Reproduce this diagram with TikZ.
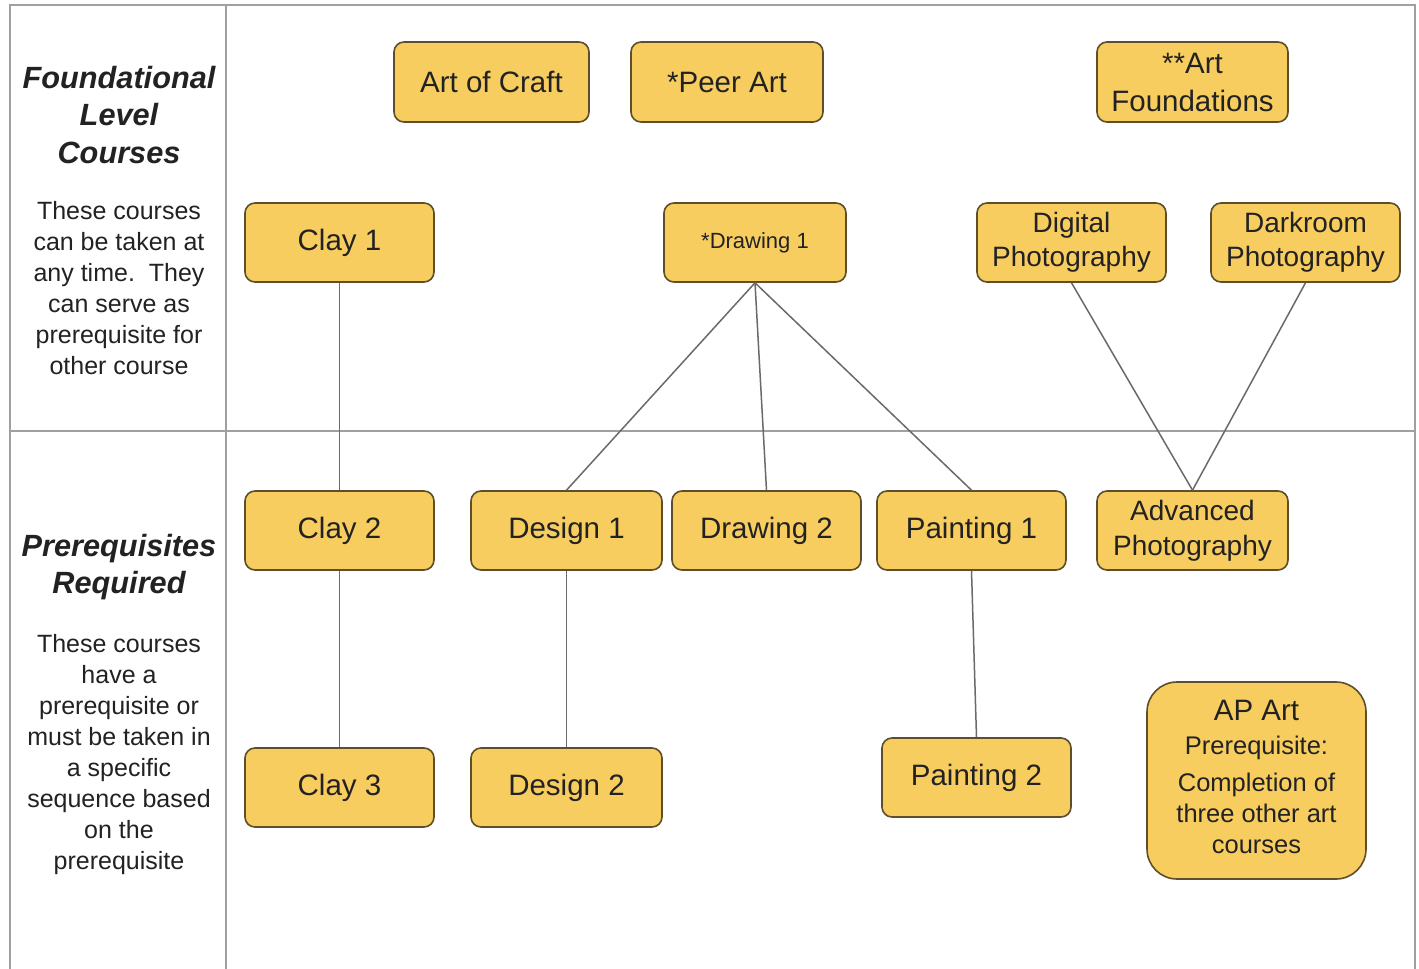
\documentclass[tikz,border=0pt]{standalone}
\usepackage{fontspec}
\setmainfont{Liberation Sans}
\definecolor{boxfill}{HTML}{F8CD60}
\definecolor{boxborder}{HTML}{5E4E2A}
\definecolor{linec}{HTML}{6A6A6A}
\definecolor{framec}{HTML}{A0A0A0}
\definecolor{textc}{HTML}{222222}
\newcommand{\mytwolines}[2]{\raisebox{-3.5pt}{\begin{tabular}{@{}c@{}}#1\\#2\end{tabular}}}
\begin{document}
\begin{tikzpicture}[x=1pt,y=-1pt,
  course/.style={draw=boxborder, fill=boxfill, rounded corners=10pt, line width=1.6pt,
    inner sep=0pt, align=center, text=textc, minimum width=189pt, minimum height=79pt,
    font=\fontsize{29.5}{35}\selectfont},
  link/.style={draw=linec, line width=1.5pt},
  frameline/.style={draw=framec, line width=1.8pt},
  sidetitle/.style={align=center, text=textc, inner sep=0pt, font=\fontsize{30.7}{37.5}\selectfont\bfseries\itshape},
  sidetext/.style={align=center, text=textc, inner sep=0pt, font=\fontsize{25}{31}\selectfont}
]
\fill[white] (0,0) rectangle (1419,969);
\useasboundingbox (0,0) rectangle (1419,969);

% frame
\coordinate (tl) at (10,5);
\coordinate (tr) at (1415,5);
\coordinate (bl) at (10,969);
\coordinate (br) at (1415,969);
\coordinate (ct) at (226,5);
\coordinate (cb) at (226,969);
\coordinate (ml) at (10,431);
\coordinate (mr) at (1415,431);
\draw[frameline] (bl) -- (tl) -- (tr) -- (br);
\draw[frameline] (ct) -- (cb);
\draw[frameline] (ml) -- (mr);

% side labels
\node[sidetitle] (t1) at (119,115) {Foundational\\Level\\Courses};
\node[sidetext] (d1) at (119,288) {These courses\\can be taken at\\any time.\ \ They\\can serve as\\prerequisite for\\other course};
\node[sidetitle] (t2) at (119,567) {Prerequisites\\Required};
\node[sidetext] (d2) at (119,755) {These courses\\have a\\prerequisite or\\must be taken in\\a specific\\sequence based\\on the\\prerequisite};

% courses
\node[course, minimum width=195pt, minimum height=80pt] (craft) at (491.5,82) {Art of Craft};
\node[course, minimum width=192pt, minimum height=80pt] (peer) at (727,82) {*Peer Art};
\node[course, minimum width=191pt, minimum height=80pt, font=\fontsize{29.5}{38}\selectfont] (found) at (1192.5,82) {**Art\\Foundations};
\node[course] (clay1) at (339.5,242.5) {Clay 1};
\node[course, minimum width=182pt, font=\fontsize{22}{26}\selectfont] (draw1) at (755,242.5) {*Drawing 1};
\node[course, font=\fontsize{28}{34}\selectfont] (digital) at (1071.5,242.5) {\mytwolines{Digital}{Photography}};
\node[course, font=\fontsize{28}{34}\selectfont] (dark) at (1305.5,242.5) {\mytwolines{Darkroom}{Photography}};
\node[course] (clay2) at (339.5,530.5) {Clay 2};
\node[course, minimum width=191pt] (design1) at (566.5,530.5) {Design 1};
\node[course] (draw2) at (766.5,530.5) {Drawing 2};
\node[course] (paint1) at (971.5,530.5) {Painting 1};
\node[course, minimum width=191pt, font=\fontsize{28}{35}\selectfont] (adv) at (1192.5,530.5) {Advanced\\Photography};
\node[course] (clay3) at (339.5,787.5) {Clay 3};
\node[course, minimum width=191pt] (design2) at (566.5,787.5) {Design 2};
\node[course] (paint2) at (976.5,777.5) {Painting 2};
\node[course, minimum width=219pt, minimum height=197pt, rounded corners=30pt,
  font=\fontsize{25.5}{31}\selectfont] (ap) at (1256.5,780.5)
  {{\fontsize{29.5}{36}\selectfont AP Art}\\[3pt]
   Prerequisite:\\[6pt]
   Completion of\\
   three other art\\
   courses\\[-23pt]\mbox{}};

% connectors
\draw[link] (clay1.south) -- (clay2.north);
\draw[link] (clay2.south) -- (clay3.north);
\draw[link] (draw1.south) -- (design1.north);
\draw[link] (draw1.south) -- (draw2.north);
\draw[link] (draw1.south) -- (paint1.north);
\draw[link] (design1.south) -- (design2.north);
\draw[link] (paint1.south) -- (paint2.north);
\draw[link] (digital.south) -- (adv.north);
\draw[link] (dark.south) -- (adv.north);
\end{tikzpicture}
\end{document}
